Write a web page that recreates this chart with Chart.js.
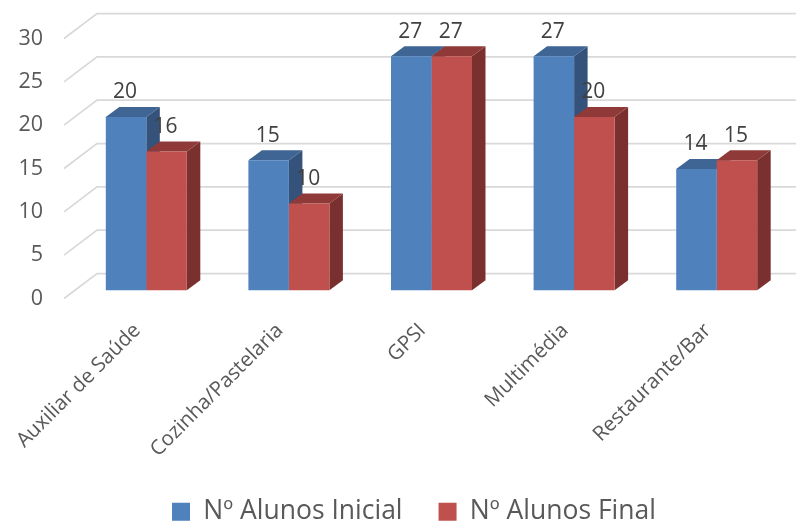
<!DOCTYPE html>
<html>
<head>
<meta charset="utf-8">
<style>
html, body { margin: 0; padding: 0; background: #fff; }
#wrap { width: 796px; height: 524px; }
</style>
<script src="https://cdn.jsdelivr.net/npm/chart.js@4"></script>
</head>
<body>
<div id="wrap"><canvas id="chart"></canvas></div>
<script>
const categories = ['Auxiliar de Saúde', 'Cozinha/Pastelaria', 'GPSI', 'Multimédia', 'Restaurante/Bar'];
const alunosInicial = [20, 15, 27, 27, 14];
const alunosFinal = [16, 10, 27, 20, 15];
const yTicksMax = 30;

// 3D look: how far the wall and the bars recede
const wallDx = 33, wallDy = 25;
const barDx = 13.5, barDy = 10;
const floorGap = 0.95; // bars stand this many units in front of the axis zero

const fontName = '"Open Sans"';
const textColor = '#595959';
const labelColor = '#404040';

function face(ctx, pts, color) {
    ctx.fillStyle = color;
    ctx.beginPath();
    pts.forEach((p, i) => i ? ctx.lineTo(p[0], p[1]) : ctx.moveTo(p[0], p[1]));
    ctx.closePath();
    ctx.fill();
}

const bars3d = {
    id: 'bars3d',
    afterLayout(chart) {
        // legend sits right of the canvas centre in the original
        chart.legend.left += 20;
        chart.legend.right += 20;
    },
    beforeDatasetsDraw(chart) {
        const ctx = chart.ctx, yScale = chart.scales.y, area = chart.chartArea;
        // slanted grid lines
        ctx.save();
        ctx.strokeStyle = '#d9d9d9';
        ctx.lineWidth = 1.75;
        yScale.ticks.forEach(t => {
            const y = yScale.getPixelForValue(t.value);
            ctx.beginPath();
            ctx.moveTo(area.left - 11, y);
            ctx.lineTo(area.left - 11 + wallDx, y - wallDy);
            ctx.lineTo(chart.width, y - wallDy);
            ctx.stroke();
        });
        // side and top faces of the bars
        chart.data.datasets.forEach((ds, i) => {
            chart.getDatasetMeta(i).data.forEach(bar => {
                const l = bar.x - bar.width / 2, r = bar.x + bar.width / 2;
                face(ctx, [[r, bar.y], [r + barDx, bar.y - barDy], [r + barDx, bar.base - barDy], [r, bar.base]], ds.sideColor);
                face(ctx, [[l, bar.y], [l + barDx, bar.y - barDy], [r + barDx, bar.y - barDy], [r, bar.y]], ds.topColor);
            });
        });
        ctx.restore();
    },
    afterDatasetsDraw(chart) {
        const ctx = chart.ctx;
        ctx.save();
        ctx.font = '21px ' + fontName;
        ctx.fillStyle = labelColor;
        ctx.textAlign = 'center';
        ctx.textBaseline = 'middle';
        chart.data.datasets.forEach((ds, i) => {
            chart.getDatasetMeta(i).data.forEach((bar, j) => {
                ctx.fillText(ds.data[j], bar.x - 1, bar.y - 24.5);
            });
        });
        ctx.restore();
    }
};

new Chart(document.getElementById('chart').getContext('2d'), {
    type: 'bar',
    plugins: [bars3d],
    data: {
        labels: categories,
        datasets: [{
            label: 'Nº Alunos Inicial',
            data: alunosInicial,
            yAxisID: 'yBars',
            backgroundColor: '#4f81bd',
            topColor: '#3e6593',
            sideColor: '#34527a'
        }, {
            label: 'Nº Alunos Final',
            data: alunosFinal,
            yAxisID: 'yBars',
            backgroundColor: '#c0504d',
            topColor: '#8f3a38',
            sideColor: '#7a302e'
        }]
    },
    options: {
        responsive: true,
        maintainAspectRatio: false,
        animation: false,
        layout: { padding: { left: 0, right: 8, top: 38.5, bottom: -11 } },
        datasets: { bar: { barPercentage: 1, categoryPercentage: 0.568 } },
        scales: {
            x: {
                grid: { display: false },
                border: { display: false },
                afterFit(scale) { scale.height = 164; },
                ticks: {
                    color: textColor,
                    font: { family: fontName, size: 20.5 },
                    minRotation: 45,
                    maxRotation: 45,
                    autoSkip: false,
                    labelOffset: -9,
                    padding: 12
                }
            },
            y: {
                min: 0,
                max: yTicksMax,
                grid: { display: false },
                border: { display: false },
                afterFit(scale) { scale.width = 75; },
                ticks: {
                    stepSize: 5,
                    color: textColor,
                    font: { family: fontName, size: 21.5 },
                    padding: 24
                }
            },
            yBars: {
                display: false,
                min: -floorGap,
                max: yTicksMax - floorGap
            }
        },
        plugins: {
            tooltip: { enabled: false },
            legend: {
                position: 'bottom',
                labels: {
                    color: textColor,
                    font: { family: fontName, size: 26.5 },
                    boxWidth: 18,
                    boxHeight: 18,
                    padding: 36
                }
            }
        }
    }
});
</script>
</body>
</html>
